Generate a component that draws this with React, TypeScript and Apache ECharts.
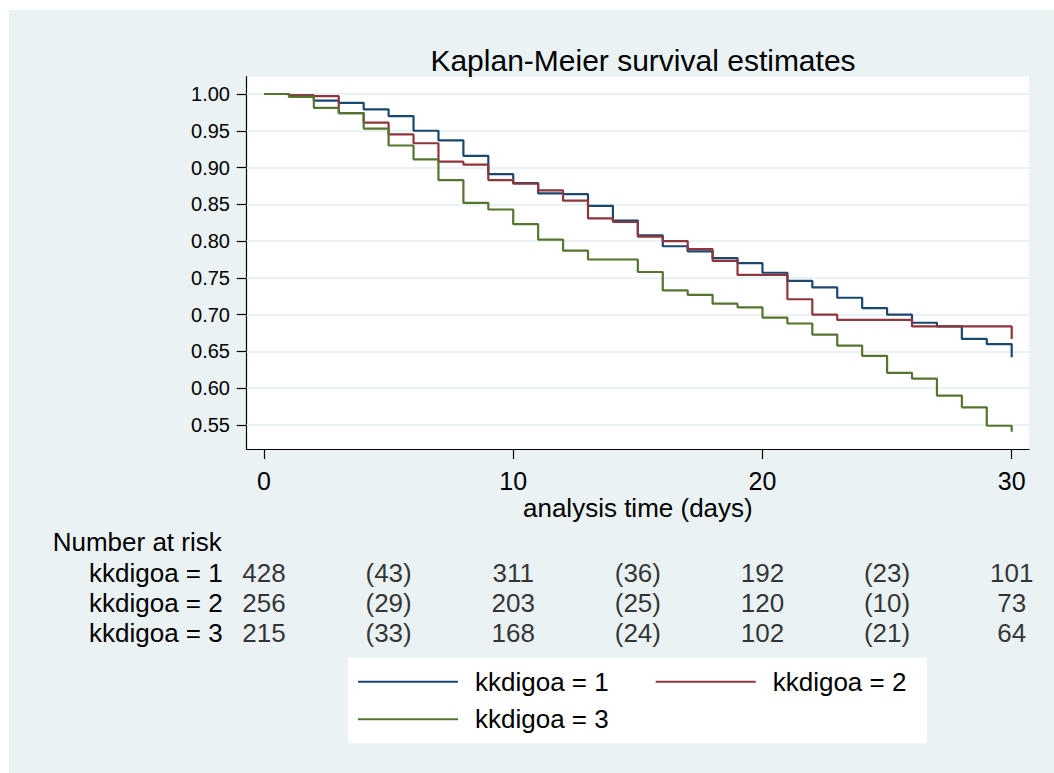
import React, { useEffect, useRef } from "react";
import * as echarts from "echarts";

const DAYS = [0, 1, 2, 3, 4, 5, 6, 7, 8, 9, 10, 11, 12, 13, 14, 15, 16, 17, 18, 19, 20, 21, 22, 23, 24, 25, 26, 27, 28, 29, 30];
const SURV_1 = [1.0, 0.998, 0.991, 0.988, 0.979, 0.97, 0.95, 0.937, 0.916, 0.891, 0.879, 0.865, 0.864, 0.848, 0.828, 0.808, 0.793, 0.786, 0.777, 0.77, 0.757, 0.746, 0.737, 0.723, 0.709, 0.7, 0.689, 0.684, 0.667, 0.66, 0.642];
const SURV_2 = [1.0, 0.998, 0.997, 0.974, 0.961, 0.945, 0.933, 0.908, 0.904, 0.883, 0.878, 0.869, 0.855, 0.831, 0.826, 0.806, 0.8, 0.789, 0.773, 0.754, 0.754, 0.721, 0.7, 0.693, 0.693, 0.693, 0.684, 0.684, 0.684, 0.684, 0.667];
const SURV_3 = [1.0, 0.996, 0.981, 0.974, 0.953, 0.93, 0.911, 0.883, 0.852, 0.843, 0.823, 0.802, 0.787, 0.775, 0.775, 0.758, 0.733, 0.727, 0.715, 0.71, 0.696, 0.688, 0.673, 0.658, 0.644, 0.621, 0.613, 0.59, 0.574, 0.549, 0.541];
const GROUPS = ["kkdigoa = 1", "kkdigoa = 2", "kkdigoa = 3"];
const X_TICKS = [0, 10, 20, 30];
const Y_TICKS = [0.55, 0.6, 0.65, 0.7, 0.75, 0.8, 0.85, 0.9, 0.95, 1.0];
const RISK_TIMES = [0, 5, 10, 15, 20, 25, 30];
const RISK_1 = ["428", "(43)", "311", "(36)", "192", "(23)", "101"];
const RISK_2 = ["256", "(29)", "203", "(25)", "120", "(10)", "73"];
const RISK_3 = ["215", "(33)", "168", "(24)", "102", "(21)", "64"];

const COLORS = ["#1A476F", "#90353B", "#55752F"];
const BG = "#EAF2F3";
const FONT = "'Liberation Sans', Arial, Helvetica, sans-serif";
const X_MIN = -0.694;
const X_MAX = 30.694;
const Y_MIN = 0.5174;
const Y_MAX = 1.0235;

export default function App() {
  const ref = useRef<HTMLDivElement>(null);
  useEffect(() => {
    if (!ref.current) return;
    const chart = echarts.init(ref.current, undefined, { renderer: "svg" });
    const survs = [SURV_1, SURV_2, SURV_3];
    const risks = [RISK_1, RISK_2, RISK_3];
    const riskData: any[] = [];
    risks.forEach((row, gi) => {
      row.forEach((txt, i) => {
        riskData.push({ value: [RISK_TIMES[i], GROUPS[gi], txt] });
      });
    });
    const option: any = {
      animation: false,
      textStyle: { fontFamily: FONT },
      title: {
        text: "Kaplan-Meier survival estimates",
        left: 638,
        top: 40,
        textAlign: "center",
        textStyle: { fontFamily: FONT, fontSize: 30, fontWeight: "normal", color: "#000" },
      },
      graphic: [
        {
          type: "rect",
          z: -10,
          shape: { x: 9, y: 10, width: 1045, height: 763 },
          style: { fill: BG },
        },
        {
          type: "rect",
          z: -5,
          shape: { x: 348, y: 657.7, width: 579, height: 85.6 },
          style: { fill: "#fff" },
        },
        {
          type: "text",
          x: 52.7,
          y: 542,
          style: {
            text: "Number at risk",
            font: `26px ${FONT}`,
            fill: "#000",
            verticalAlign: "middle",
            align: "left",
          },
        },
      ],
      legend: [
        {
          data: [GROUPS[0], GROUPS[1]],
          left: 358,
          top: 668.7,
          padding: 0,
          itemGap: 47,
          itemWidth: 100,
          itemHeight: 2,
          icon: "rect",
          selectedMode: false,
          textStyle: { fontFamily: FONT, fontSize: 26, color: "#000", padding: [0, 0, 0, 12] },
        },
        {
          data: [GROUPS[2]],
          left: 358,
          top: 706.3,
          padding: 0,
          itemWidth: 100,
          itemHeight: 2,
          icon: "rect",
          selectedMode: false,
          textStyle: { fontFamily: FONT, fontSize: 26, color: "#000", padding: [0, 0, 0, 12] },
        },
      ],
      grid: [
        {
          left: 246.7,
          top: 76.7,
          width: 782.3,
          height: 372.3,
          show: true,
          backgroundColor: "#fff",
          borderWidth: 0,
        },
        {
          left: 246.7,
          top: 558,
          width: 782.3,
          height: 90,
        },
      ],
      xAxis: [
        {
          type: "value",
          gridIndex: 0,
          min: X_MIN,
          max: X_MAX,
          name: "analysis time (days)",
          nameLocation: "middle",
          nameGap: 46,
          nameTextStyle: { fontFamily: FONT, fontSize: 26, color: "#000" },
          axisLine: { show: true, onZero: false, lineStyle: { color: "#000", width: 1.2 } },
          axisTick: { show: true, length: 10, customValues: X_TICKS, lineStyle: { color: "#000", width: 1.2 } },
          axisLabel: { show: true, customValues: X_TICKS, fontSize: 25, color: "#000", margin: 19.5, fontFamily: FONT },
          splitLine: { show: false },
        },
        {
          type: "value",
          gridIndex: 1,
          min: X_MIN,
          max: X_MAX,
          show: false,
        },
      ],
      yAxis: [
        {
          type: "value",
          gridIndex: 0,
          min: Y_MIN,
          max: Y_MAX,
          axisLine: { show: true, onZero: false, lineStyle: { color: "#000", width: 1.2 } },
          axisTick: { show: true, length: 10, customValues: Y_TICKS, lineStyle: { color: "#000", width: 1.2 } },
          axisLabel: {
            show: true,
            customValues: Y_TICKS,
            fontSize: 20,
            color: "#000",
            margin: 16.7,
            fontFamily: FONT,
            formatter: (v: number) => v.toFixed(2),
          },
          splitLine: { show: false },
        },
        {
          type: "category",
          gridIndex: 1,
          data: GROUPS,
          inverse: true,
          axisLine: { show: false },
          axisTick: { show: false },
          axisLabel: { fontSize: 26, color: "#000", margin: 24, fontFamily: FONT, interval: 0 },
          splitLine: { show: false },
        },
      ],
      series: [
        {
          name: "grid-lines",
          type: "line",
          xAxisIndex: 0,
          yAxisIndex: 0,
          data: [],
          z: 1,
          silent: true,
          markLine: {
            silent: true,
            z: 1,
            symbol: ["none", "none"],
            label: { show: false },
            lineStyle: { color: BG, width: 2, type: "solid" },
            data: Y_TICKS.map((v) => ({ yAxis: v })),
          },
        },
        ...survs.map((s, gi) => ({
          name: GROUPS[gi],
          type: "line",
          xAxisIndex: 0,
          yAxisIndex: 0,
          step: "end",
          showSymbol: false,
          symbol: "none",
          z: 3,
          color: COLORS[gi],
          itemStyle: { color: COLORS[gi] },
          lineStyle: { color: COLORS[gi], width: 2.2 },
          data: DAYS.map((d, i) => [d, s[i]]),
        })),
        {
          name: "risk",
          type: "scatter",
          xAxisIndex: 1,
          yAxisIndex: 1,
          symbolSize: 1,
          itemStyle: { color: "rgba(0,0,0,0)" },
          silent: true,
          label: {
            show: true,
            position: "inside",
            fontSize: 26,
            color: "#000",
            fontFamily: FONT,
            formatter: (p: any) => p.value[2],
          },
          data: riskData,
        },
      ],
    };
    chart.setOption(option);
    return () => chart.dispose();
  }, []);
  return (
    <div
      ref={ref}
      style={{ position: "absolute", left: 0, top: 0, width: 1054, height: 773, background: "#fff" }}
    />
  );
}
